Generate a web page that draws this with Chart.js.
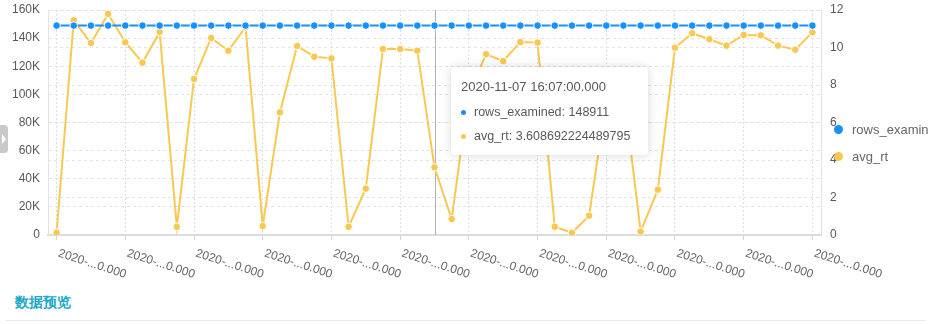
<!DOCTYPE html>
<html>
<head>
<meta charset="utf-8">
<script src="https://cdn.jsdelivr.net/npm/chart.js@4/dist/chart.umd.min.js"></script>
<style>
  html, body { margin:0; padding:0; background:#fff; width:929px; height:324px; overflow:hidden;
    font-family: "Liberation Sans", Arial, sans-serif; }
  #wrap { position:absolute; left:0; top:0; width:929px; height:290px; }
  #tip { position:absolute; top:67px; width:197px; box-sizing:border-box; background:#fff;
    border-radius:4px; box-shadow:0 0 10px rgba(0,0,0,0.16); padding:10px 8px 9px 10px; color:#595959; }
  #tip .t { font-size:13px; line-height:20px; margin-left:0px; color:#595959; white-space:nowrap; }
  #tip .r { font-size:12.5px; line-height:20px; white-space:nowrap; display:flex; align-items:center; }
  #tip .r1 { margin-top:5px; } #tip .r2 { margin-top:4px; }
  #tip .d { width:5px; height:5px; border-radius:50%; display:inline-block; margin-right:8px; }
  .leg { position:absolute; left:834px; display:flex; align-items:center; font-size:13px; color:#666; white-space:nowrap; }
  .leg .c { width:9px; height:9px; border-radius:50%; margin-right:9px; }
  #tab { position:absolute; left:0; top:125px; width:8px; height:28px; background:#c9c9c9; border-radius:0 4px 4px 0; }
  #tab:after { content:""; position:absolute; left:2px; top:9px; border-left:4px solid #fff; border-top:5px solid transparent; border-bottom:5px solid transparent; }
  #title { position:absolute; left:15px; top:294px; font-size:14px; font-weight:bold; color:#1aa9c9; }
  #rule { position:absolute; left:5px; top:320px; width:920px; height:1px; background:#e8e8e8; }
</style>
</head>
<body>
<div id="wrap"><canvas id="c"></canvas></div>
<div id="tip"></div>
<div class="leg" style="top:122px"><span class="c" style="background:#1890ff"></span><span>rows_examined</span></div>
<div class="leg" style="top:149px"><span class="c" style="background:#f9c852"></span><span>avg_rt</span></div>
<div id="tab"></div>
<div id="title">数据预览</div>
<div id="rule"></div>
<script>
// ---- data ----
const categories = [
  "2020-11-07 15:45:00.000","2020-11-07 15:46:00.000","2020-11-07 15:47:00.000","2020-11-07 15:48:00.000",
  "2020-11-07 15:49:00.000","2020-11-07 15:50:00.000","2020-11-07 15:51:00.000","2020-11-07 15:52:00.000",
  "2020-11-07 15:53:00.000","2020-11-07 15:54:00.000","2020-11-07 15:55:00.000","2020-11-07 15:56:00.000",
  "2020-11-07 15:57:00.000","2020-11-07 15:58:00.000","2020-11-07 15:59:00.000","2020-11-07 16:00:00.000",
  "2020-11-07 16:01:00.000","2020-11-07 16:02:00.000","2020-11-07 16:03:00.000","2020-11-07 16:04:00.000",
  "2020-11-07 16:05:00.000","2020-11-07 16:06:00.000","2020-11-07 16:07:00.000","2020-11-07 16:08:00.000",
  "2020-11-07 16:09:00.000","2020-11-07 16:10:00.000","2020-11-07 16:11:00.000","2020-11-07 16:12:00.000",
  "2020-11-07 16:13:00.000","2020-11-07 16:14:00.000","2020-11-07 16:15:00.000","2020-11-07 16:16:00.000",
  "2020-11-07 16:17:00.000","2020-11-07 16:18:00.000","2020-11-07 16:19:00.000","2020-11-07 16:20:00.000",
  "2020-11-07 16:21:00.000","2020-11-07 16:22:00.000","2020-11-07 16:23:00.000","2020-11-07 16:24:00.000",
  "2020-11-07 16:25:00.000","2020-11-07 16:26:00.000","2020-11-07 16:27:00.000","2020-11-07 16:28:00.000",
  "2020-11-07 16:29:00.000"
];
const rowsExamined = [
  148911,148911,148911,148911,148911,148911,148911,148911,148911,148911,
  148911,148911,148911,148911,148911,148911,148911,148911,148911,148911,
  148911,148911,148911,148911,148911,148911,148911,148911,148911,148911,
  148911,148911,148911,148911,148911,148911,148911,148911,148911,148911,
  148911,148911,148911,148911,148911
];
const avgRt = [
  0.12, 11.45, 10.24, 11.79, 10.28, 9.19, 10.83, 0.43, 8.32, 10.51,
  9.83, 11.08, 0.48, 6.54, 10.08, 9.51, 9.42, 0.44, 2.47, 9.92,
  9.92, 9.83, 3.608692224489795, 0.85, 7.6, 9.64, 9.28, 10.29, 10.26, 0.44,
  0.12, 1.03, 7.2, 7.73, 0.18, 2.42, 9.99, 10.76, 10.44, 10.1,
  10.67, 10.65, 10.1, 9.88, 10.81
];
const leftTicks = [0, 20000, 40000, 60000, 80000, 100000, 120000, 140000, 160000];
const rightTicks = [0, 2, 4, 6, 8, 10, 12];
const activeIndex = 22;
const labelEvery = 4;

// ---- helpers ----
const FONT = '"Liberation Sans", Arial, sans-serif';
function shortLabel(s) { return s.slice(0, 5) + '...' + s.slice(-5); }

const xLabelPlugin = {
  id: 'xlabels',
  afterDraw(chart) {
    const xs = chart.scales.x, ctx = chart.ctx;
    ctx.save();
    ctx.font = '12px ' + FONT;
    ctx.fillStyle = '#666';
    ctx.textAlign = 'left';
    ctx.textBaseline = 'middle';
    xs.ticks.forEach((t, i) => {
      if (i % labelEvery !== 0) return;
      const x = xs.getPixelForTick(i);
      ctx.save();
      ctx.translate(x + 2, xs.bottom + 13);
      ctx.rotate(18 * Math.PI / 180);
      ctx.fillText(shortLabel(categories[t.value]), 0, 0);
      ctx.restore();
    });
    ctx.restore();
  }
};
const crossPlugin = {
  id: 'cross',
  beforeDatasetsDraw(chart) {
    const xs = chart.scales.x, a = chart.chartArea, ctx = chart.ctx;
    const x = Math.round(xs.getPixelForValue(activeIndex)) + 0.5;
    ctx.save();
    ctx.strokeStyle = '#b3b3b3';
    ctx.lineWidth = 1;
    ctx.beginPath(); ctx.moveTo(x, a.top); ctx.lineTo(x, a.bottom); ctx.stroke();
    ctx.restore();
  }
};

const gridCol = '#e3e3e3';
const chart = new Chart(document.getElementById('c'), {
  type: 'line',
  data: {
    labels: categories,
    datasets: [
      { label: 'rows_examined', data: rowsExamined, yAxisID: 'y', borderColor: '#1890ff', backgroundColor: '#1890ff',
        borderWidth: 2, pointRadius: 3.8, pointBorderColor: '#fff', pointBorderWidth: 1, pointBackgroundColor: '#1890ff', tension: 0 },
      { label: 'avg_rt', data: avgRt, yAxisID: 'y1', borderColor: '#f9c852', backgroundColor: '#f9c852',
        borderWidth: 2, pointRadius: 3.8, pointBorderColor: '#fff', pointBorderWidth: 1, pointBackgroundColor: '#f9c852', tension: 0 }
    ]
  },
  options: {
    responsive: true, maintainAspectRatio: false, animation: false,
    events: [],
    layout: { padding: { top: 10, bottom: 50, left: 0, right: 0 } },
    plugins: { legend: { display: false }, tooltip: { enabled: false } },
    scales: {
      x: {
        type: 'category', offset: true,
        ticks: { display: false, autoSkip: false },
        grid: {
          offset: false, drawTicks: true, tickLength: 5,
          color: c => (c.index % labelEvery === 0 ? '#dedede' : 'rgba(0,0,0,0)'),
          tickColor: c => (c.index % labelEvery === 0 ? '#d6d6d6' : 'rgba(0,0,0,0)'),
          tickBorderDash: []
        },
        border: { display: true, color: '#dcdcdc', width: 2, dash: [2, 2] }
      },
      y: {
        position: 'left', min: 0, max: 160000,
        afterBuildTicks: s => { s.ticks = leftTicks.map(v => ({ value: v })); },
        afterFit: s => { s.width = 48; s.paddingTop = 0; s.paddingBottom = 0; },
        ticks: { color: '#595959', font: { size: 12, family: FONT }, padding: 8,
          callback: v => (v === 0 ? '0' : (v / 1000) + 'K') },
        grid: { color: gridCol, drawTicks: false },
        border: { display: true, color: '#e3e3e3', dash: [3, 3] }
      },
      y1: {
        position: 'right', min: 0, max: 12,
        afterBuildTicks: s => { s.ticks = rightTicks.map(v => ({ value: v })); },
        afterFit: s => { s.width = 108; s.paddingTop = 0; s.paddingBottom = 0; },
        ticks: { color: '#595959', font: { size: 12, family: FONT }, padding: 9 },
        grid: { color: gridCol, drawTicks: false },
        border: { display: true, color: '#e3e3e3', dash: [3, 3] }
      }
    }
  },
  plugins: [xLabelPlugin, crossPlugin]
});

// ---- tooltip (HTML) ----
const tip = document.getElementById('tip');
const px = chart.scales.x.getPixelForValue(activeIndex);
tip.style.left = Math.round(px + 16) + 'px';
tip.innerHTML =
  '<div class="t">' + categories[activeIndex] + '</div>' +
  '<div class="r r1"><span class="d" style="background:#1890ff"></span>rows_examined: ' + rowsExamined[activeIndex] + '</div>' +
  '<div class="r r2"><span class="d" style="background:#f9c852"></span>avg_rt: ' + avgRt[activeIndex] + '</div>';
</script>
</body>
</html>
